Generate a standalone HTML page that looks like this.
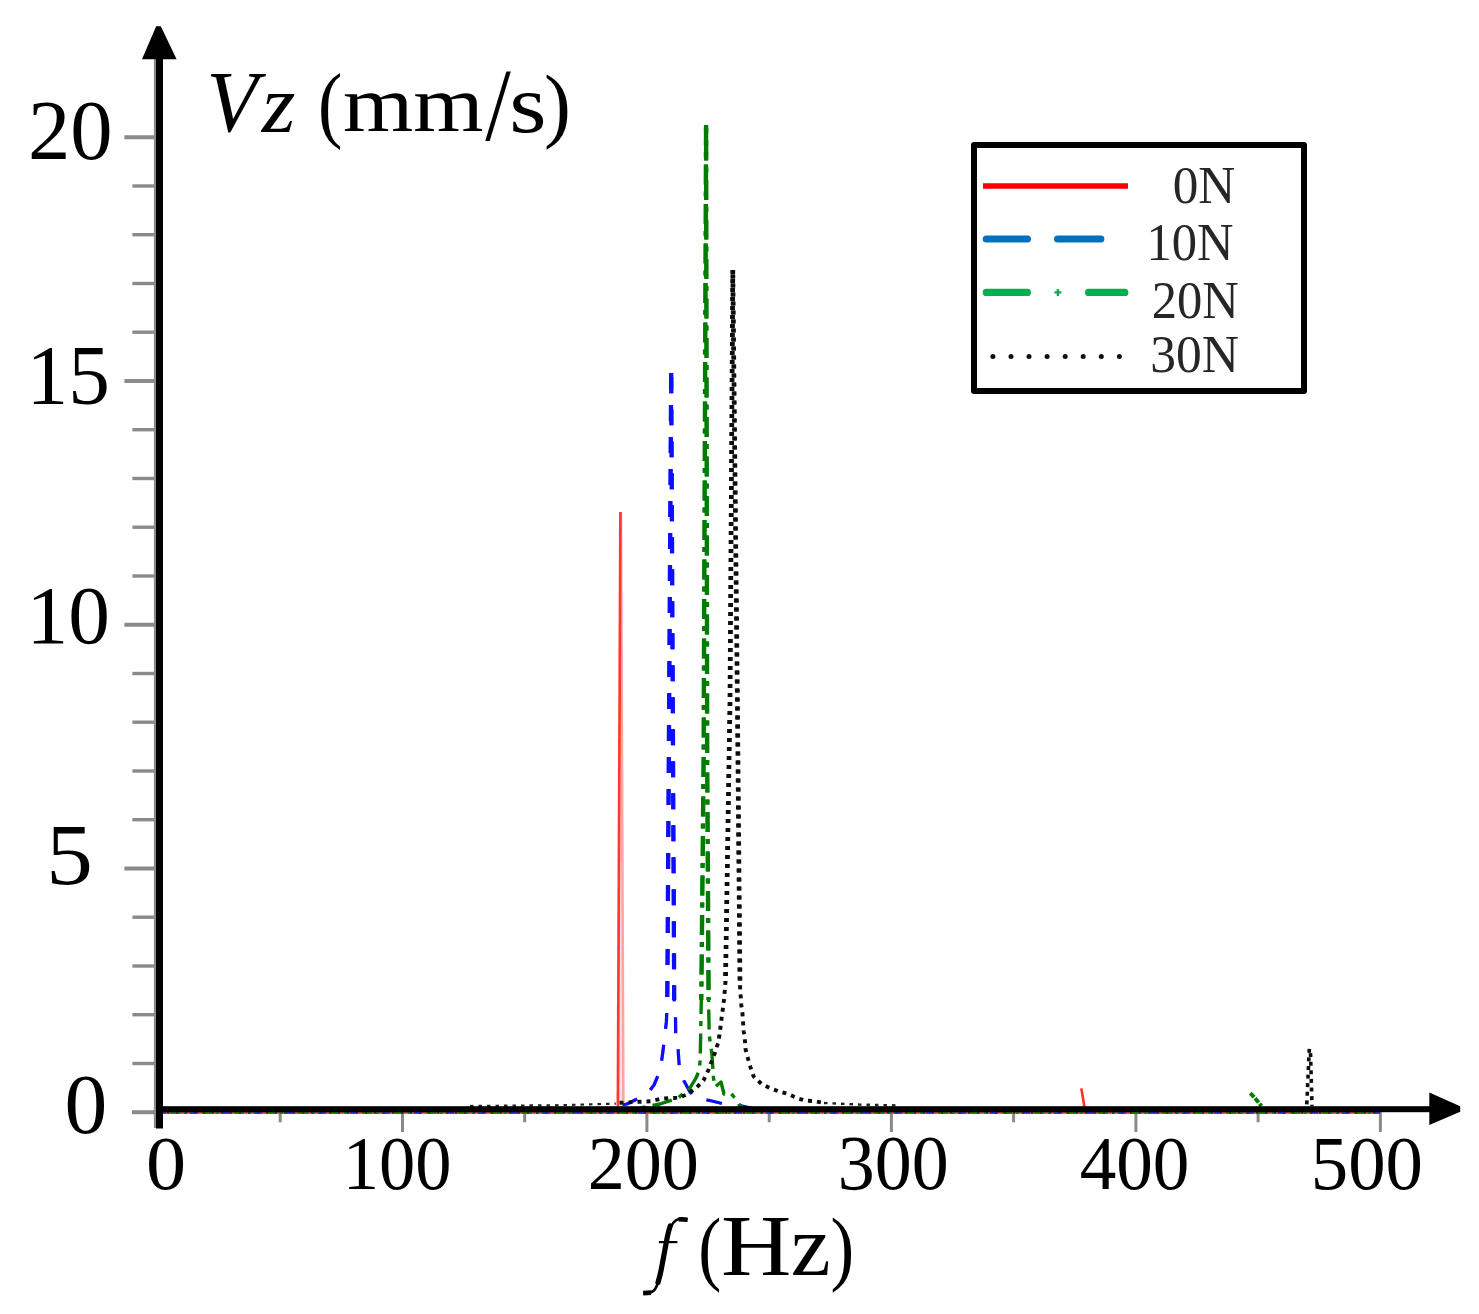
<!DOCTYPE html>
<html><head><meta charset="utf-8"><title>Vz spectrum</title>
<style>html,body{margin:0;padding:0;background:#fff}body{width:1479px;height:1314px;overflow:hidden}svg{display:block}text{font-family:"Liberation Serif",serif;font-size:100px}</style>
</head><body>
<svg width="1479" height="1314" viewBox="0 0 1479 1314">
<defs><filter id="soft" x="0" y="0" width="1479" height="1314" filterUnits="userSpaceOnUse"><feGaussianBlur stdDeviation="0.55"/></filter></defs>
<rect width="1479" height="1314" fill="#fff"/>
<g filter="url(#soft)">
<g stroke="#8a8a8a" fill="none">
<line x1="155" y1="59" x2="155" y2="1128" stroke-width="2.2"/>
<line x1="131.9" y1="1112.2" x2="157" y2="1112.2" stroke-width="4"/>
<line x1="132.4" y1="1063.5" x2="157" y2="1063.5" stroke-width="3.4"/>
<line x1="132.4" y1="1014.7" x2="157" y2="1014.7" stroke-width="3.4"/>
<line x1="132.4" y1="966.0" x2="157" y2="966.0" stroke-width="3.4"/>
<line x1="132.4" y1="917.2" x2="157" y2="917.2" stroke-width="3.4"/>
<line x1="124.4" y1="868.5" x2="157" y2="868.5" stroke-width="4"/>
<line x1="132.4" y1="819.7" x2="157" y2="819.7" stroke-width="3.4"/>
<line x1="132.4" y1="771.0" x2="157" y2="771.0" stroke-width="3.4"/>
<line x1="132.4" y1="722.2" x2="157" y2="722.2" stroke-width="3.4"/>
<line x1="132.4" y1="673.5" x2="157" y2="673.5" stroke-width="3.4"/>
<line x1="124.4" y1="624.7" x2="157" y2="624.7" stroke-width="4"/>
<line x1="132.4" y1="576.0" x2="157" y2="576.0" stroke-width="3.4"/>
<line x1="132.4" y1="527.2" x2="157" y2="527.2" stroke-width="3.4"/>
<line x1="132.4" y1="478.5" x2="157" y2="478.5" stroke-width="3.4"/>
<line x1="132.4" y1="429.7" x2="157" y2="429.7" stroke-width="3.4"/>
<line x1="124.4" y1="381.0" x2="157" y2="381.0" stroke-width="4"/>
<line x1="132.4" y1="332.2" x2="157" y2="332.2" stroke-width="3.4"/>
<line x1="132.4" y1="283.5" x2="157" y2="283.5" stroke-width="3.4"/>
<line x1="132.4" y1="234.7" x2="157" y2="234.7" stroke-width="3.4"/>
<line x1="132.4" y1="186.0" x2="157" y2="186.0" stroke-width="3.4"/>
<line x1="124.4" y1="137.2" x2="157" y2="137.2" stroke-width="4"/>
<line x1="280.2" y1="1110" x2="280.2" y2="1122.3" stroke-width="3"/>
<line x1="402.5" y1="1110" x2="402.5" y2="1132" stroke-width="3"/>
<line x1="524.7" y1="1110" x2="524.7" y2="1122.3" stroke-width="3"/>
<line x1="646.9" y1="1110" x2="646.9" y2="1132" stroke-width="3"/>
<line x1="769.2" y1="1110" x2="769.2" y2="1122.3" stroke-width="3"/>
<line x1="891.4" y1="1110" x2="891.4" y2="1132" stroke-width="3"/>
<line x1="1013.6" y1="1110" x2="1013.6" y2="1122.3" stroke-width="3"/>
<line x1="1135.9" y1="1110" x2="1135.9" y2="1132" stroke-width="3"/>
<line x1="1258.1" y1="1110" x2="1258.1" y2="1122.3" stroke-width="3"/>
<line x1="1380.4" y1="1110" x2="1380.4" y2="1132" stroke-width="3"/>
</g>
<g fill="none" stroke-width="1.7">
<line x1="158" y1="1112.9" x2="1380" y2="1112.9" stroke="#d83030"/>
<line x1="158" y1="1112.9" x2="1380" y2="1112.9" stroke="#2a2ad0" stroke-dasharray="8 24"/>
<line x1="158" y1="1112.9" x2="1380" y2="1112.9" stroke="#0a7a0a" stroke-dasharray="10 4 3 15" stroke-dashoffset="-12"/>
<line x1="158" y1="1112.9" x2="1380" y2="1112.9" stroke="#333" stroke-dasharray="2 7"/>
</g>
<polygon points="620.5,512 617.9,1106 623.4,1106" fill="#ffe0e0"/>
<path d="M620.9,512 L623.4,1106" fill="none" stroke="#ffa4a4" stroke-width="2.6"/>
<path d="M620.4,512 L617.9,1106" fill="none" stroke="#ff3830" stroke-width="2.7"/>
<path d="M1081.2,1088.4 L1082,1092 L1084.4,1107" fill="none" stroke="#ff3028" stroke-width="2.6"/>
<polyline points="671.2,373.0 667.3,1000.0 666.4,1021.4 664.5,1038.5 662.7,1053.0 660.3,1070.0 654.0,1085.0 648.0,1093.0 636.0,1099.5 627.0,1104.0 600.0,1110.0" fill="none" stroke="#0808ff" stroke-width="3.3" stroke-dasharray="16 16" stroke-dashoffset="0" stroke-linejoin="round"/>
<polyline points="671.2,373.0 667.3,1000.0" fill="none" stroke="#0808ff" stroke-width="4.3" stroke-dasharray="16 16" stroke-dashoffset="0" stroke-linejoin="round"/>
<polyline points="671.2,373.0 674.2,1000.0 675.5,1016.5 675.7,1033.6 678.0,1048.2 679.2,1065.3 684.0,1081.0 690.0,1092.0 696.0,1097.5 712.0,1101.0 728.0,1105.0 742.0,1106.0 760.0,1110.0" fill="none" stroke="#0808ff" stroke-width="3.3" stroke-dasharray="16 16" stroke-dashoffset="27.7" stroke-linejoin="round"/>
<polyline points="671.2,373.0 674.2,1000.0" fill="none" stroke="#0808ff" stroke-width="4.3" stroke-dasharray="16 16" stroke-dashoffset="27.7" stroke-linejoin="round"/>
<polyline points="706.1,125.0 703.6,760.0 701.3,1000.0 700.2,1060.0 699.0,1071.0 696.0,1078.0 690.0,1088.0 678.0,1098.0 660.0,1104.0 640.0,1108.0" fill="none" stroke="#007d00" stroke-width="3.4" stroke-dasharray="20 7 5 7.5" stroke-dashoffset="0" stroke-linejoin="round"/>
<polyline points="706.1,125.0 703.6,760.0 701.3,1000.0" fill="none" stroke="#007d00" stroke-width="4.4" stroke-dasharray="20 7 5 7.5" stroke-dashoffset="0" stroke-linejoin="round"/>
<polyline points="706.1,125.0 707.2,760.0 708.6,1000.0 709.2,1035.0 712.0,1055.0 713.5,1078.0 715.0,1087.0 721.0,1082.0 724.0,1094.0 731.0,1093.0 740.0,1105.5 746.0,1110.0" fill="none" stroke="#007d00" stroke-width="3.4" stroke-dasharray="20 7 5 7.5" stroke-dashoffset="24" stroke-linejoin="round"/>
<polyline points="706.1,125.0 707.2,760.0 708.6,1000.0" fill="none" stroke="#007d00" stroke-width="4.4" stroke-dasharray="20 7 5 7.5" stroke-dashoffset="24" stroke-linejoin="round"/>
<polyline points="1250.3,1093.2 1254.0,1097.0 1261.5,1106.0" fill="none" stroke="#007d00" stroke-width="4" stroke-dasharray="5.5 1.5"/>
<polyline points="470.0,1106.0 560.0,1105.2 615.8,1103.6" fill="none" stroke="#222" stroke-width="2.2" stroke-dasharray="3.5 5"/>
<polyline points="824.0,1103.0 860.0,1104.6 897.0,1105.4" fill="none" stroke="#222" stroke-width="2.4" stroke-dasharray="3.5 5"/>
<polyline points="732.8,270.0 730.0,700.0 725.5,981.2 724.8,990.4 724.2,998.3 723.0,1008.0 721.8,1016.5 720.6,1026.3 719.4,1035.4 718.0,1043.3 715.0,1052.5 712.0,1060.4 708.4,1070.0 703.5,1080.5 696.2,1087.8 687.0,1094.5 678.6,1097.9 669.4,1098.0 661.0,1098.8 651.0,1101.2 615.8,1103.0" fill="none" stroke="#111" stroke-width="3.9" stroke-dasharray="4 5" stroke-dashoffset="0" stroke-linejoin="round"/>
<polyline points="732.8,270.0 730.0,700.0 725.5,981.2" fill="none" stroke="#111" stroke-width="4.7" stroke-dasharray="4 5" stroke-dashoffset="0" stroke-linejoin="round"/>
<polyline points="732.8,270.0 737.4,700.0 740.0,986.0 740.7,995.8 741.3,1005.0 742.5,1013.5 743.1,1022.6 743.7,1031.2 744.9,1040.3 745.6,1049.4 748.0,1058.6 750.4,1067.0 753.5,1076.2 761.4,1083.9 769.3,1087.8 779.0,1091.5 787.6,1093.8 797.3,1098.2 805.9,1100.7 814.4,1101.1 824.0,1103.0" fill="none" stroke="#111" stroke-width="3.9" stroke-dasharray="4 5" stroke-dashoffset="4.5" stroke-linejoin="round"/>
<polyline points="732.8,270.0 737.4,700.0 740.0,986.0" fill="none" stroke="#111" stroke-width="4.7" stroke-dasharray="4 5" stroke-dashoffset="4.5" stroke-linejoin="round"/>
<path d="M1309.3,1048.8 L1306.7,1106" fill="none" stroke="#111" stroke-width="3.6" stroke-dasharray="4 4.6"/>
<path d="M1310.4,1048.8 L1312,1106" fill="none" stroke="#111" stroke-width="3.6" stroke-dasharray="4 4.6" stroke-dashoffset="4.3"/>
<rect x="156" y="55" width="7" height="1073.5" fill="#000"/>
<polygon points="156.2,26.3 160.8,26.3 176.6,59.3 142,59.3" fill="#000"/>
<rect x="156" y="1106.2" width="1276" height="6" fill="#000"/>
<polygon points="1429.3,1092.4 1460.2,1106.3 1460.2,1111.7 1429.3,1124.9" fill="#000"/>
<text transform="translate(28.01,159.11) scale(0.8467,0.8433)" fill="#000">20</text>
<text transform="translate(26.60,403.76) scale(0.8333,0.8433)" fill="#000">15</text>
<text transform="translate(26.60,642.54) scale(0.8333,0.8324)" fill="#000">10</text>
<text transform="translate(46.30,884.33) scale(0.9325,0.8667)" fill="#000">5</text>
<text transform="translate(64.47,1133.41) scale(0.8571,0.8463)" fill="#000">0</text>
<text transform="translate(145.99,1189.07) scale(0.8024,0.7627)" fill="#000">0</text>
<text transform="translate(342.67,1189.08) scale(0.7255,0.7588)" fill="#000">100</text>
<text transform="translate(587.63,1189.06) scale(0.7423,0.7701)" fill="#000">200</text>
<text transform="translate(837.80,1189.15) scale(0.7397,0.7746)" fill="#000">300</text>
<text transform="translate(1079.63,1188.96) scale(0.7326,0.7716)" fill="#000">400</text>
<text transform="translate(1310.71,1188.87) scale(0.7486,0.7672)" fill="#000">500</text>
<text transform="translate(206.60,131.27) scale(0.8409,0.8642)" font-style="italic" fill="#000">V</text>
<text transform="translate(261.77,132.00) scale(0.8667,0.8304)" font-style="italic" fill="#000">z</text>
<text transform="translate(318.08,131.54) scale(0.7308,0.8411)" fill="#000">(</text>
<text transform="translate(342.89,131.30) scale(0.9039,0.8128)" fill="#000">mm</text>
<text transform="translate(485.20,140.07) scale(0.9179,1.0348)" fill="#000">/</text>
<text transform="translate(509.37,132.17) scale(0.9581,0.8313)" fill="#000">s</text>
<text transform="translate(543.88,131.86) scale(0.8077,0.8256)" fill="#000">)</text>
<g fill="none" stroke="#000" stroke-linecap="butt"><path d="M687.5,1219.6 C683,1217.4 678.5,1218.4 675.7,1220.6 C671.2,1224 669,1229 667.3,1237 L661.2,1269.7 C659.5,1278 657.6,1285 655.1,1289.1 C652.5,1292.6 648,1293.6 643.3,1293.3" stroke-width="2.6"/><path d="M670.2,1226 C668.8,1230.5 667.9,1234 667.3,1237 L661.2,1269.7 C660.3,1274 659.3,1278.1 658,1282.5" stroke-width="5.2" stroke-linecap="round"/><path d="M678.5,1219.4 L687.6,1219.8" stroke-width="4.4"/><path d="M643.2,1293.1 L651,1292.6" stroke-width="4.6"/><path d="M658.9,1242.1 L677.4,1242.1" stroke-width="2.2"/></g>
<text transform="translate(698.13,1275.18) scale(0.6923,0.8344)" fill="#000">(</text>
<text transform="translate(721.08,1275.40) scale(0.9742,0.8692)" fill="#000">H</text>
<text transform="translate(790.70,1275.40) scale(0.9000,0.8652)" fill="#000">z</text>
<text transform="translate(830.57,1275.18) scale(0.7115,0.8344)" fill="#000">)</text>
<rect x="974" y="145" width="330" height="246" fill="#fff" stroke="#000" stroke-width="6" stroke-linejoin="round"/>
<line x1="983" y1="186" x2="1128" y2="186" stroke="#ff0000" stroke-width="5.5"/>
<g stroke="#0070c0" stroke-width="7.2" stroke-linecap="round"><line x1="986.3" y1="239" x2="1027.4" y2="239"/><line x1="1057.6" y1="239" x2="1100.8" y2="239"/></g>
<g stroke="#00b050" stroke-width="7.2" stroke-linecap="round"><line x1="986.3" y1="292.4" x2="1027.4" y2="292.4"/><line x1="1088.6" y1="292.4" x2="1124.8" y2="292.4"/></g>
<path d="M1054.4 292.4h7M1057.9 288.9v7" stroke="#00b050" stroke-width="2.4" fill="none"/>
<circle cx="992.9" cy="356.4" r="2.5" fill="#111"/>
<circle cx="1011.0" cy="356.4" r="2.5" fill="#111"/>
<circle cx="1029.0" cy="356.4" r="2.5" fill="#111"/>
<circle cx="1047.1" cy="356.4" r="2.5" fill="#111"/>
<circle cx="1065.2" cy="356.4" r="2.5" fill="#111"/>
<circle cx="1083.2" cy="356.4" r="2.5" fill="#111"/>
<circle cx="1101.3" cy="356.4" r="2.5" fill="#111"/>
<circle cx="1119.4" cy="356.4" r="2.5" fill="#111"/>
<text transform="translate(1172.75,202.83) scale(0.5121,0.5373)" fill="#262626">0N</text>
<text transform="translate(1146.45,259.56) scale(0.5056,0.5191)" fill="#262626">10N</text>
<text transform="translate(1151.78,318.03) scale(0.5060,0.5328)" fill="#262626">20N</text>
<text transform="translate(1150.22,372.35) scale(0.5152,0.5239)" fill="#262626">30N</text>
</g>
</svg></body></html>
